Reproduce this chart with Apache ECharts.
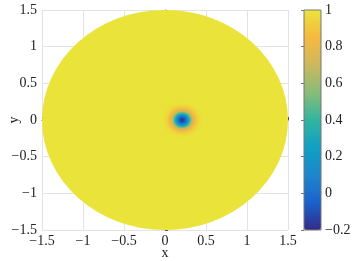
<!DOCTYPE html>
<html><head><meta charset="utf-8">
<script src="https://cdn.jsdelivr.net/npm/echarts@6/dist/echarts.min.js"></script>
<style>html,body{margin:0;padding:0;background:#fff}#c{width:352px;height:261px}</style>
</head><body><div id="c"></div>
<script>
// Axis ticks
const xTicks = [-1.5, -1, -0.5, 0, 0.5, 1, 1.5];
const yTicks = [-1.5, -1, -0.5, 0, 0.5, 1, 1.5];
const colorTicks = [-0.2, 0, 0.2, 0.4, 0.6, 0.8, 1];
// Disk (domain) and its value
const diskCenter = [0, 0];
const diskRadius = 1.5;
const diskValue = 1;
// Dip near (0.21, 0): radial profile (radius -> value)
const dipCenter = [0.21, 0.0];
const dipRadii = [0.25,0.24,0.23,0.22,0.21,0.20,0.19,0.18,0.17,0.16,0.15,0.14,0.13,0.12,0.11,0.10,0.09,0.08,0.07,0.06,0.05,0.04,0.03,0.02,0.01];
const dipValues = [0.995,0.99,0.985,0.975,0.965,0.95,0.93,0.91,0.88,0.85,0.81,0.76,0.70,0.62,0.52,0.42,0.33,0.24,0.15,0.07,0.0,-0.06,-0.11,-0.15,-0.17];
// parula-like colormap (as it appears in the picture)
const parula = ['#352A87','#1A62CC','#1E86CC','#0FA0C4','#33B4A0','#88BC78','#CDB85E','#F5B93F','#EAE43A'];

const FONT = 'Liberation Serif';
const minus = v => String(v).replace('-', '\u2212');

const diskData = [[diskCenter[0], diskCenter[1], diskValue]];
const dipData = dipRadii.map((r, i) => [dipCenter[0], dipCenter[1], dipValues[i], r]);

function ellipseItem(params, api, r) {
  const c = api.coord([api.value(0), api.value(1)]);
  const rx = api.size([r, 0])[0];
  const ry = api.size([0, r])[1];
  return {
    type: 'circle',
    shape: { cx: 0, cy: 0, r: rx },
    x: c[0], y: c[1], scaleY: ry / rx,
    style: { fill: api.visual('color') }
  };
}

const axisCommon = {
  type: 'value',
  interval: 0.5,
  axisLine: { show: true, lineStyle: { color: '#555', width: 1 } },
  axisTick: { show: true, inside: true, length: 3, lineStyle: { color: '#555' } },
  splitLine: { show: true, lineStyle: { color: '#e3e3e3', width: 1 } },
  axisLabel: { color: '#222', fontFamily: FONT, fontSize: 14, formatter: minus },
  nameLocation: 'middle',
  nameMoveOverlap: false,
  nameTextStyle: { color: '#222', fontFamily: FONT, fontSize: 14 }
};

const chart = echarts.init(document.getElementById('c'), null, { renderer: 'canvas' });
chart.setOption({
  animation: false,
  backgroundColor: '#fff',
  grid: [
    { left: 42, top: 10, width: 246, height: 220, containLabel: false, outerBoundsMode: 'none' },
    { left: 304, top: 10, width: 17, height: 220, containLabel: false, outerBoundsMode: 'none', show: true, borderColor: '#777', borderWidth: 1, backgroundColor: 'transparent', z: 10 }
  ],
  xAxis: [
    Object.assign({}, axisCommon, { gridIndex: 0, min: xTicks[0], max: xTicks[xTicks.length - 1], name: 'x', nameGap: 16,
      axisLabel: Object.assign({}, axisCommon.axisLabel, { margin: 4 }) }),
    { type: 'value', gridIndex: 1, min: 0, max: 1, show: false }
  ],
  yAxis: [
    Object.assign({}, axisCommon, { gridIndex: 0, min: yTicks[0], max: yTicks[yTicks.length - 1], name: 'y', nameGap: 21, nameRotate: 90,
      axisLabel: Object.assign({}, axisCommon.axisLabel, { margin: 5 }) }),
    { type: 'value', gridIndex: 1, position: 'right', min: colorTicks[0], max: colorTicks[colorTicks.length - 1], interval: 0.2, z: 10,
      axisLine: { show: false }, splitLine: { show: false },
      axisTick: { show: true, inside: true, length: 3, lineStyle: { color: '#777' } },
      axisLabel: { color: '#222', fontFamily: FONT, fontSize: 14, margin: 4, formatter: minus } }
  ],
  visualMap: {
    type: 'continuous',
    min: colorTicks[0], max: colorTicks[colorTicks.length - 1],
    dimension: 2,
    seriesIndex: [0, 1],
    inRange: { color: parula },
    calculable: false, hoverLink: false,
    orient: 'vertical',
    left: 304, top: 10, itemWidth: 17, itemHeight: 220, padding: 0,
    text: null, showLabel: false
  },
  series: [
    { type: 'custom', xAxisIndex: 0, yAxisIndex: 0, data: diskData, silent: true,
      renderItem: (p, api) => ellipseItem(p, api, diskRadius) },
    { type: 'custom', xAxisIndex: 0, yAxisIndex: 0, data: dipData, silent: true,
      renderItem: (p, api) => ellipseItem(p, api, api.value(3)) }
  ]
});
</script></body></html>
